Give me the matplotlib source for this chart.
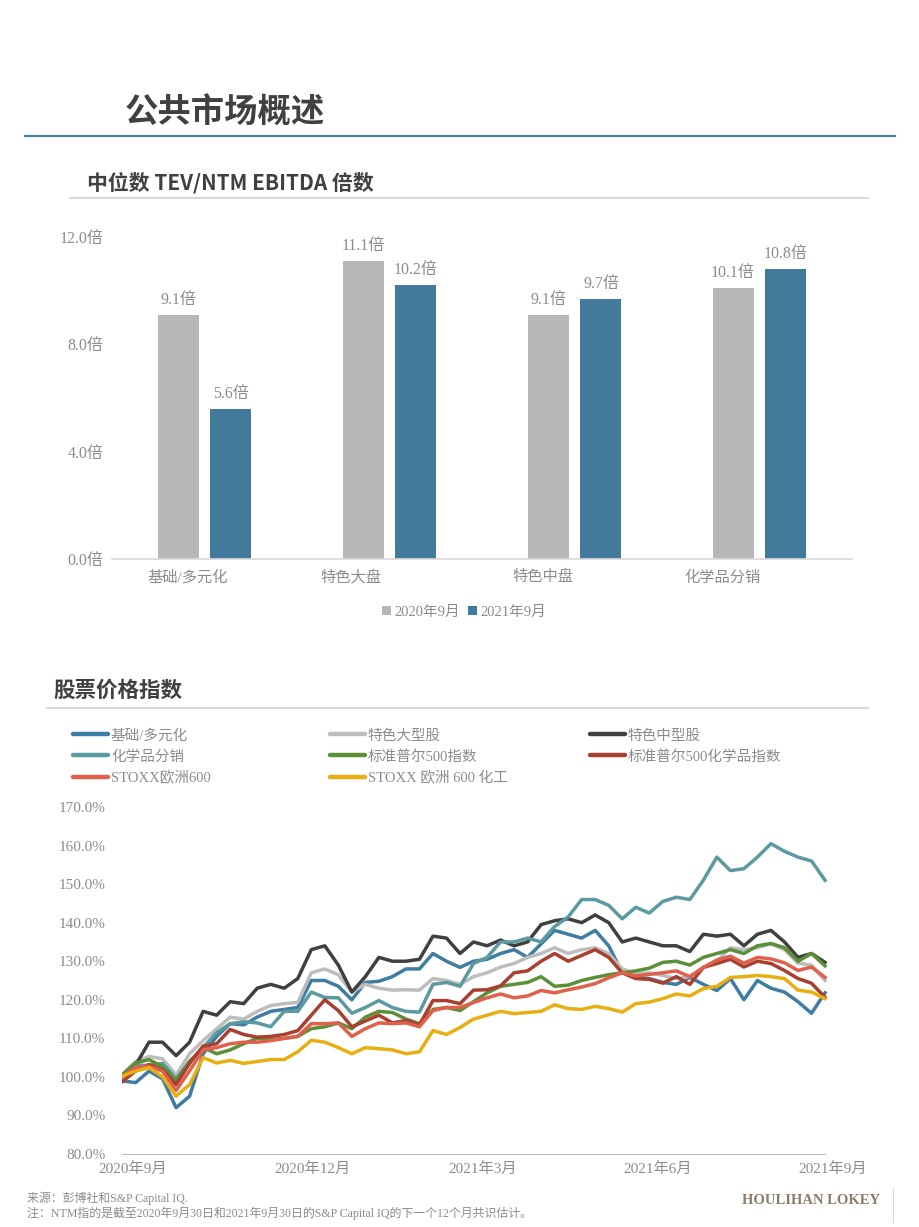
import numpy as np
import matplotlib
matplotlib.use("Agg")
import matplotlib.pyplot as plt
from matplotlib.lines import Line2D

plt.rcParams['font.family'] = ['Liberation Serif', 'Noto Sans CJK SC']
HEAD = ['Noto Sans CJK SC', 'DejaVu Sans']

# ---- bar chart data: median TEV / NTM EBITDA ----
bar_cats = ["基础/多元化", "特色大盘", "特色中盘", "化学品分销"]
bar_2020 = [9.1, 11.1, 9.1, 10.1]
bar_2021 = [5.6, 10.2, 9.7, 10.8]
bar_series = ["2020年9月", "2021年9月"]

# ---- line chart data: weekly index values (%), Sep 2020 -> Sep 2021 ----
basic = [99, 98.5, 101.5, 99.5, 92, 95, 106, 110.5, 113.8, 113.5, 115.5, 117, 117.5, 118,
         125, 125, 123.5, 120, 124.5, 124.8, 126, 128, 128, 132, 130, 128.4, 130, 130.5,
         132, 133, 131, 134.5, 138, 137, 136, 138, 134, 127, 125.8, 125.5, 124.5, 124,
         125.8, 124, 122.4, 125.5, 120, 125, 123, 122, 119.5, 116.5, 121.8]
large = [100.5, 104, 105.3, 104.7, 100.5, 106, 109.4, 112.5, 115.5, 115, 117, 118.5, 119,
         119.3, 127, 128, 126.5, 122, 124, 123, 122.5, 122.6, 122.5, 125.5, 125, 124, 126,
         127, 128.5, 129.4, 131, 132, 133.5, 132, 133, 133.5, 132, 128, 126.8, 127, 126.3,
         125.5, 126, 128.4, 130, 133.5, 133, 133.5, 134.5, 133, 129.5, 129, 125]
midcap = [100, 103, 109, 109, 105.5, 109, 117, 116, 119.5, 119, 123, 124, 123, 125.5, 133,
          134, 129, 122, 126, 131, 130, 130, 130.5, 136.5, 136, 132, 135, 134, 135.5, 134,
          135, 139.5, 140.5, 141, 140, 142, 140, 135, 136, 135, 134, 134, 132.5, 137, 136.5,
          137, 134, 137, 138, 135, 131, 132, 129.7]
distrib = [100.5, 103, 103, 103.5, 99.5, 104, 107.6, 111.5, 113.8, 114.3, 114, 113, 117, 117,
           122, 120.6, 120.5, 116.5, 118, 119.8, 118, 117, 116.8, 124, 124.5, 123.5, 129.4,
           131, 135, 135, 136, 135, 139, 141.5, 146, 146, 144.5, 141, 144, 142.5, 145.5,
           146.6, 146, 151, 157, 153.5, 154, 157, 160.5, 158.5, 157, 156, 151]
sp500 = [100.5, 103.6, 104.5, 102.6, 99, 104, 107.6, 106, 107, 108.6, 110, 109.7, 110, 110.5,
         112.5, 113, 114, 112.5, 115.5, 117, 116.7, 115, 113.8, 117.5, 118, 117.2, 119.5,
         121.8, 123.5, 124, 124.5, 126, 123.5, 123.8, 125, 125.8, 126.5, 127, 127.5, 128.2,
         129.7, 130, 129, 131, 132, 133, 132, 134, 134.6, 133.5, 130, 132, 128.8]
sp500_chem = [98.7, 101.5, 103.2, 101.8, 98, 103.5, 108, 108.6, 112.3, 111, 110.3, 110.5, 111,
              112, 116, 120, 117.2, 113, 114.5, 116, 114, 114.6, 113.5, 119.8, 119.8, 119,
              122.5, 122.6, 123.6, 127, 127.5, 130, 132, 130, 131.5, 133, 131, 127, 125.5,
              125.3, 124.3, 126, 124, 128.4, 129.4, 130.5, 128.5, 130, 129.4, 127.6, 125.5,
              124.3, 120.6]
stoxx600 = [100, 102.5, 102.8, 101.5, 96.5, 101.6, 107, 107.6, 108.6, 109, 109, 109.4, 110,
            110.5, 113.8, 113.8, 114, 110.5, 112.5, 114, 113.8, 114, 113, 117.2, 118, 118,
            119.3, 120.5, 121.5, 120.5, 121, 122.4, 121.8, 122.6, 123.3, 124.2, 125.7, 127,
            126.2, 126.6, 127, 127.5, 126, 128.4, 130.3, 131.3, 129.5, 131, 130.6, 129.6,
            127.6, 128.5, 125.8]
stoxx_chem = [100.2, 101.5, 102.4, 100, 95, 98, 105, 103.6, 104.3, 103.5, 104, 104.5, 104.5,
              106.5, 109.5, 109, 107.6, 106, 107.6, 107.3, 107, 106, 106.5, 112, 111, 112.8,
              115, 116, 117, 116.4, 116.7, 117, 118.7, 117.7, 117.5, 118.3, 117.7, 116.8, 119,
              119.4, 120.3, 121.5, 121, 122.9, 123.5, 125.8, 126, 126.3, 126, 125.5, 122.5,
              122, 120.3]

line_names = ["基础/多元化", "特色大型股", "特色中型股", "化学品分销", "标准普尔500指数",
              "标准普尔500化学品指数", "STOXX欧洲600", "STOXX 欧洲 600 化工"]
line_colors = ["#3f7ca2", "#bdbdbd", "#404040", "#5a9aa0", "#5b9038", "#a83f2f",
               "#e0604b", "#e8ae12"]
x_labels = ["2020年9月", "2020年12月", "2021年3月", "2021年6月", "2021年9月"]
x_label_pos = [0.8, 14.1, 26.7, 39.6, 52.6]

TXT = "#8c8c8c"
HEADC = "#404040"

fig = plt.figure(figsize=(9.2, 12.27), dpi=100)
W, H = 920.0, 1227.0


def fy(px):
    return 1 - px / H


# page header
fig.text(125 / W, fy(112), "公共市场概述", family=HEAD, fontsize=24, fontweight='bold',
         color=HEADC, va='center', ha='left')
fig.add_artist(Line2D([25 / W, 895 / W], [fy(136), fy(136)], color="#4a7ea6", lw=1.6))

fig.text(87 / W, fy(183), "中位数 TEV/NTM EBITDA 倍数", family=HEAD, fontsize=15,
         fontweight='bold', color=HEADC, va='center', ha='left')
fig.add_artist(Line2D([70 / W, 868 / W], [fy(198), fy(198)], color="#d9d9d9", lw=1.5))

fig.text(53 / W, fy(690), "股票价格指数", family=HEAD, fontsize=15.5, fontweight='bold',
         color=HEADC, va='center', ha='left')
fig.add_artist(Line2D([47 / W, 868 / W], [fy(708), fy(708)], color="#d9d9d9", lw=1.5))

# ---- bar chart ----
ax1 = fig.add_axes([112 / W, fy(559), 740 / W, 322 / H])
xs = np.arange(len(bar_cats))
bw = 0.222
off = 0.143
b1 = ax1.bar(xs - off, bar_2020, bw, color="#b7b7b7", label=bar_series[0])
b2 = ax1.bar(xs + off, bar_2021, bw, color="#427a9b", label=bar_series[1])
for bars in (b1, b2):
    for r in bars:
        ax1.annotate(f"{r.get_height():.1f}倍", (r.get_x() + r.get_width() / 2, r.get_height()),
                     xytext=(0, 5), textcoords="offset points", ha='center', va='bottom',
                     fontsize=11.5, color=TXT)
ax1.set_xlim(-0.5, 3.5)
ax1.set_ylim(0, 12)
ax1.set_yticks([0, 4, 8, 12])
ax1.set_yticklabels([f"{v:.1f}倍" for v in [0, 4, 8, 12]])
# category labels sit a little left of the group centres in the original
label_shift = [-0.09, -0.21, -0.17, -0.20]
ax1.set_xticks(xs + np.array(label_shift))
ax1.set_xticklabels(bar_cats)
ax1.tick_params(length=0, colors=TXT, labelsize=11.5)
ax1.tick_params(axis='x', pad=8, labelsize=11)
ax1.tick_params(axis='y', pad=6)
for s in ("top", "right", "left"):
    ax1.spines[s].set_visible(False)
ax1.spines["bottom"].set_color("#d9d9d9")
ax1.spines["bottom"].set_linewidth(1.2)
fig.legend(handles=[b1, b2], loc='center', bbox_to_anchor=(464 / W, fy(612)), ncol=2,
           frameon=False, fontsize=10.5, handlelength=0.6, handleheight=0.6,
           handletextpad=0.2, columnspacing=0.6, labelcolor=TXT)

# ---- line chart ----
ax2 = fig.add_axes([122 / W, fy(1154), 712.5 / W, 347 / H])
series = [basic, large, midcap, distrib, sp500, sp500_chem, stoxx600, stoxx_chem]
weeks = np.arange(len(basic))
handles = []
for vals, name, col in zip(series, line_names, line_colors):
    h, = ax2.plot(weeks, vals, color=col, lw=2.5, label=name, solid_joinstyle='round')
    handles.append(h)
ax2.set_xlim(0, 52.7)
ax2.set_ylim(80, 170)
yt = np.arange(80, 171, 10)
ax2.set_yticks(yt)
ax2.set_yticklabels([f"{v:.1f}%" for v in yt])
ax2.set_xticks(x_label_pos)
ax2.set_xticklabels(x_labels)
ax2.tick_params(length=0, colors=TXT, labelsize=11)
ax2.tick_params(axis='y', pad=12)
ax2.tick_params(axis='x', pad=6)
for s in ("top", "right", "left"):
    ax2.spines[s].set_visible(False)
ax2.spines["bottom"].set_color("#bfbfbf")
ax2.spines["bottom"].set_bounds(0, 52)

# three single-column legends, row-major order like the original
cols_x = [73, 330, 590]
for c, x0 in enumerate(cols_x):
    hs = handles[c::3]
    leg_lines = [Line2D([], [], color=h.get_color(), lw=3.2, solid_capstyle='round') for h in hs]
    fig.legend(leg_lines, [h.get_label() for h in hs], loc='upper left',
               bbox_to_anchor=(x0 / W, fy(729)), frameon=False, fontsize=10.5,
               handlelength=2.4, handletextpad=0.2, labelspacing=0.5, borderpad=0,
               borderaxespad=0, labelcolor=TXT)

# ---- footer ----
fig.text(27 / W, fy(1198), "来源：彭博社和S&P Capital IQ.", fontsize=8.6, color=TXT, va='center')
fig.text(27 / W, fy(1213), "注：NTM指的是截至2020年9月30日和2021年9月30日的S&P Capital IQ的下一个12个月共识估计。",
         fontsize=8.6, color=TXT, va='center')
fig.text(880 / W, fy(1200), "HOULIHAN LOKEY", fontsize=10.5, fontweight='bold',
         color="#8a7b6b", ha='right', va='center', family=['Liberation Serif'])
fig.add_artist(Line2D([893 / W, 893 / W], [fy(1188), fy(1222)], color="#d9d9d9", lw=0.8))

fig.savefig("out.png", dpi=100)
